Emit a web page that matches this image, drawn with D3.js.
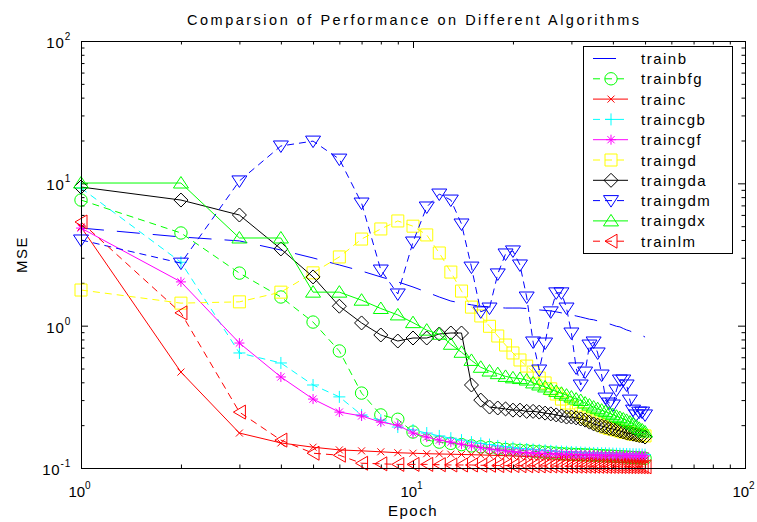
<!DOCTYPE html>
<html>
<head>
<meta charset="utf-8">
<script src="https://cdn.jsdelivr.net/npm/d3@7"></script>
<style>
  body { margin: 0; background: #fff; }
  svg { display: block; }
  text { font-family: "Liberation Sans", Arial, Helvetica, sans-serif; fill: #000; }
</style>
</head>
<body>
<svg id="chart" width="757" height="522"></svg>
<script>
// Training epochs
const epochs = [1, 2, 3, 4, 5, 6, 7, 8, 9, 10,
  11, 12, 13, 14, 15, 16, 17, 18, 19, 20,
  21, 22, 23, 24, 25, 26, 27, 28, 29, 30,
  31, 32, 33, 34, 35, 36, 37, 38, 39, 40,
  41, 42, 43, 44, 45, 46, 47, 48, 49, 50];

// MSE per epoch for each training algorithm
const trainb = [4.85, 4.20, 3.94, 3.40, 2.99, 2.67, 2.42, 2.20, 2.03, 1.87,
  1.72, 1.59, 1.49, 1.44, 1.40, 1.37, 1.35, 1.34, 1.33, 1.33,
  1.33, 1.32, 1.31, 1.29, 1.28, 1.27, 1.25, 1.23, 1.21, 1.19,
  1.17, 1.15, 1.13, 1.11, 1.10, 1.08, 1.06, 1.045, 1.03, 1.01,
  0.99, 0.98, 0.955, 0.933, 0.918, 0.895, 0.88, 0.866, 0.852, 0.832];
const trainbfg = [7.63, 4.48, 2.34, 1.59, 1.06, 0.664, 0.336, 0.236, 0.22, 0.179,
  0.157, 0.152, 0.149, 0.146, 0.143, 0.141, 0.139, 0.137, 0.135, 0.134,
  0.133, 0.132, 0.131, 0.130, 0.129, 0.128, 0.127, 0.126, 0.1255, 0.125,
  0.1246, 0.1242, 0.1238, 0.1234, 0.123, 0.1226, 0.1222, 0.1218, 0.1214, 0.121,
  0.1206, 0.1202, 0.1198, 0.1194, 0.119, 0.1186, 0.1182, 0.1178, 0.1174, 0.117];
const trainc = [4.93, 0.472, 0.176, 0.150, 0.140, 0.134, 0.132, 0.130, 0.128, 0.127,
  0.126, 0.1255, 0.125, 0.1245, 0.124, 0.1235, 0.123, 0.1225, 0.122, 0.1215,
  0.121, 0.1205, 0.120, 0.1197, 0.1194, 0.119, 0.1187, 0.1184, 0.118, 0.1177,
  0.1174, 0.1171, 0.1168, 0.1165, 0.1163, 0.1161, 0.1159, 0.1157, 0.1155, 0.1153,
  0.1151, 0.115, 0.1148, 0.1147, 0.1146, 0.1145, 0.1144, 0.1143, 0.1142, 0.1141];
const traincgb = [9.27, 2.79, 0.643, 0.547, 0.383, 0.316, 0.236, 0.217, 0.194, 0.185,
  0.176, 0.168, 0.162, 0.157, 0.152, 0.149, 0.146, 0.143, 0.141, 0.139,
  0.137, 0.136, 0.135, 0.134, 0.133, 0.132, 0.131, 0.1305, 0.130, 0.1295,
  0.129, 0.1285, 0.128, 0.1278, 0.1275, 0.1272, 0.127, 0.1268, 0.1265, 0.1262,
  0.126, 0.1258, 0.1256, 0.1254, 0.1252, 0.125, 0.1248, 0.1246, 0.1244, 0.1242];
const traincgf = [4.85, 2.03, 0.755, 0.436, 0.305, 0.247, 0.232, 0.210, 0.200, 0.176,
  0.165, 0.157, 0.152, 0.147, 0.143, 0.139, 0.136, 0.134, 0.132, 0.130,
  0.129, 0.128, 0.1275, 0.127, 0.1265, 0.126, 0.1255, 0.125, 0.1248, 0.1245,
  0.1242, 0.124, 0.1238, 0.1236, 0.1234, 0.1232, 0.123, 0.1229, 0.1228, 0.1227,
  0.1226, 0.1225, 0.1224, 0.1223, 0.1222, 0.1221, 0.122, 0.1219, 0.1218, 0.1217];
const traingd = [1.78, 1.44, 1.47, 1.72, 2.35, 3.04, 4.06, 4.78, 5.44, 5.0,
  4.34, 3.24, 2.38, 1.75, 1.35, 1.17, 0.99, 0.846, 0.731, 0.643,
  0.574, 0.52, 0.472, 0.429, 0.396, 0.36, 0.331, 0.305, 0.286, 0.268,
  0.25, 0.24, 0.228, 0.221, 0.214, 0.207, 0.2, 0.194, 0.19, 0.188,
  0.185, 0.182, 0.179, 0.178, 0.176, 0.173, 0.172, 0.171, 0.169, 0.168];
const traingda = [9.42, 7.63, 5.99, 3.46, 2.20, 1.37, 1.045, 0.86, 0.78, 0.819,
  0.819, 0.874, 0.888, 0.888, 0.383, 0.300, 0.268, 0.264, 0.26, 0.255,
  0.255, 0.25, 0.25, 0.247, 0.243, 0.24, 0.236, 0.232, 0.228, 0.228,
  0.225, 0.221, 0.217, 0.21, 0.204, 0.2, 0.197, 0.194, 0.19, 0.188,
  0.185, 0.182, 0.179, 0.176, 0.175, 0.173, 0.171, 0.169, 0.168, 0.165];
const traingdm = [4.0, 2.75, 10.4, 18.3, 19.8, 14.8, 7.27, 2.46, 1.67, 3.87,
  6.82, 8.41, 7.63, 5.18, 2.58, 1.25, 1.33, 2.31, 3.19, 3.35,
  2.67, 1.59, 0.768, 0.488, 0.755, 1.25, 1.70, 1.70, 1.33, 0.888,
  0.505, 0.383, 0.472, 0.731, 0.768, 0.643, 0.45, 0.31, 0.286, 0.277,
  0.353, 0.415, 0.415, 0.383, 0.300, 0.255, 0.236, 0.247, 0.247, 0.236];
const traingdx = [10.05, 10.05, 4.13, 4.13, 1.72, 1.72, 1.51, 1.32, 1.19, 1.05,
  0.93, 0.87, 0.74, 0.65, 0.57, 0.51, 0.48, 0.46, 0.44, 0.43,
  0.425, 0.415, 0.396, 0.383, 0.371, 0.357, 0.345, 0.335, 0.325, 0.315,
  0.305, 0.298, 0.286, 0.277, 0.268, 0.261, 0.255, 0.249, 0.243, 0.237,
  0.231, 0.226, 0.221, 0.216, 0.210, 0.204, 0.197, 0.190, 0.185, 0.179];
const trainlm = [5.35, 1.23, 0.247, 0.157, 0.127, 0.123, 0.108, 0.107, 0.106, 0.106,
  0.106, 0.1055, 0.105, 0.105, 0.105, 0.1045, 0.1045, 0.104, 0.104, 0.104,
  0.1038, 0.1037, 0.1036, 0.1035, 0.1034, 0.1033, 0.1032, 0.1031, 0.103, 0.103,
  0.103, 0.1029, 0.1029, 0.1028, 0.1028, 0.1027, 0.1027, 0.1026, 0.1026, 0.1025,
  0.1025, 0.1024, 0.1024, 0.1023, 0.1023, 0.1022, 0.1022, 0.1021, 0.1021, 0.102];

const seriesNames = ["trainb", "trainbfg", "trainc", "traincgb", "traincgf",
  "traingd", "traingda", "traingdm", "traingdx", "trainlm"];
const seriesValues = [trainb, trainbfg, trainc, traincgb, traincgf,
  traingd, traingda, traingdm, traingdx, trainlm];

// Axis ticks (decades) and their exponent labels
const xMajor = [1, 10, 100];
const xExponents = ["0", "1", "2"];
const yMajor = [0.1, 1, 10, 100];
const yExponents = ["-1", "0", "1", "2"];

const titleText = "Comparsion of Performance on Different Algorithms";
const xLabel = "Epoch";
const yLabel = "MSE";

// Line and marker style for each algorithm
const styles = {
  trainb:   { color: "#0000ff", dash: "23,13", marker: null },
  trainbfg: { color: "#00ff00", dash: "7,5",   marker: "circle" },
  trainc:   { color: "#ff0000", dash: null,    marker: "x" },
  traincgb: { color: "#00ffff", dash: "7,5",   marker: "plus" },
  traincgf: { color: "#ff00ff", dash: null,    marker: "star" },
  traingd:  { color: "#ffff00", dash: "7,5",   marker: "square" },
  traingda: { color: "#000000", dash: null,    marker: "diamond" },
  traingdm: { color: "#0000ff", dash: "7,5",   marker: "tridown" },
  traingdx: { color: "#00ff00", dash: null,    marker: "triup" },
  trainlm:  { color: "#ff0000", dash: "7,5",   marker: "trileft" }
};

const markerShapes = {
  x: "M-3.5,-3.5L3.5,3.5M-3.5,3.5L3.5,-3.5",
  plus: "M-6,0H6M0,-6V6",
  star: "M-5,0H5M0,-5V5M-3.6,-3.6L3.6,3.6M-3.6,3.6L3.6,-3.6",
  square: "M-6,-6H6V6H-6Z",
  diamond: "M0,-7L7,0L0,7L-7,0Z",
  tridown: "M-7.5,-5H7.5L0,6.5Z",
  triup: "M-7.5,5H7.5L0,-6.5Z",
  trileft: "M-6,0L6,-7V7Z"
};

const plot = { left: 81, right: 745, top: 41, bottom: 468 };
const svg = d3.select("#chart");

const x = d3.scaleLog().domain([1, 100]).range([plot.left, plot.right]);
const y = d3.scaleLog().domain([0.1, 100]).range([plot.bottom, plot.top]);

// minor ticks at 2..9 within each decade
function minorTicks(majors) {
  const out = [];
  for (let i = 0; i < majors.length - 1; i++)
    for (let k = 2; k <= 9; k++) out.push(majors[i] * k);
  return out;
}
const xMinor = minorTicks(xMajor);
const yMinor = minorTicks(yMajor);

svg.append("rect").attr("width", 757).attr("height", 522).attr("fill", "#fff");

svg.append("defs").append("clipPath").attr("id", "plotArea")
  .append("rect")
  .attr("x", plot.left).attr("y", plot.top)
  .attr("width", plot.right - plot.left).attr("height", plot.bottom - plot.top);

// inward ticks on all four sides
function addTicks(axisGen, transform, values, size) {
  svg.append("g")
    .attr("transform", transform)
    .call(axisGen.tickValues(values).tickSize(size).tickFormat(() => ""))
    .call(g => g.select(".domain").remove())
    .call(g => g.selectAll("line").attr("stroke", "#000").attr("stroke-width", 1));
}
addTicks(d3.axisBottom(x), `translate(0,${plot.bottom})`, xMajor, -7);
addTicks(d3.axisBottom(x), `translate(0,${plot.bottom})`, xMinor, -3.5);
addTicks(d3.axisTop(x), `translate(0,${plot.top})`, xMajor, -7);
addTicks(d3.axisTop(x), `translate(0,${plot.top})`, xMinor, -3.5);
addTicks(d3.axisLeft(y), `translate(${plot.left},0)`, yMajor, -7);
addTicks(d3.axisLeft(y), `translate(${plot.left},0)`, yMinor, -3.5);
addTicks(d3.axisRight(y), `translate(${plot.right},0)`, yMajor, -7);
addTicks(d3.axisRight(y), `translate(${plot.right},0)`, yMinor, -3.5);

// series lines and markers
const line = d3.line()
  .x((d, i) => x(epochs[i]))
  .y(d => y(d));

const seriesLayer = svg.append("g");
seriesNames.forEach((name, si) => {
  const st = styles[name];
  const vals = seriesValues[si];
  const g = seriesLayer.append("g").attr("class", "series-" + name);
  g.append("path")
    .attr("d", line(vals))
    .attr("fill", "none")
    .attr("stroke", st.color)
    .attr("stroke-width", 1)
    .attr("stroke-dasharray", st.dash)
    .attr("clip-path", "url(#plotArea)");
  if (st.marker) drawMarkers(g, st, vals.map((v, i) => [x(epochs[i]), y(v)]));
});

function drawMarkers(g, st, pts) {
  if (st.marker === "circle") {
    g.selectAll("circle").data(pts).join("circle")
      .attr("cx", d => d[0]).attr("cy", d => d[1]).attr("r", 6.2)
      .attr("fill", "none").attr("stroke", st.color).attr("stroke-width", 1);
  } else {
    g.selectAll("path.mk").data(pts).join("path")
      .attr("class", "mk")
      .attr("transform", d => `translate(${d[0]},${d[1]})`)
      .attr("d", markerShapes[st.marker])
      .attr("fill", "none").attr("stroke", st.color).attr("stroke-width", 1);
  }
}

// axes box
svg.append("rect")
  .attr("x", plot.left + 0.5).attr("y", plot.top + 0.5)
  .attr("width", plot.right - plot.left).attr("height", plot.bottom - plot.top)
  .attr("fill", "none").attr("stroke", "#000").attr("stroke-width", 1);

// tick labels as powers of ten
xMajor.forEach((v, i) => {
  const t = svg.append("text")
    .attr("x", x(v) - 1.5).attr("y", 497)
    .attr("text-anchor", "middle")
    .attr("font-size", 15);
  t.append("tspan").text("10");
  t.append("tspan").attr("dy", -8).attr("font-size", 10).text(xExponents[i]);
});
yMajor.forEach((v, i) => {
  const t = svg.append("text")
    .attr("x", 71).attr("y", y(v) + 7)
    .attr("text-anchor", "end")
    .attr("font-size", 15).attr("letter-spacing", 0.8);
  t.append("tspan").text("10");
  t.append("tspan").attr("dy", -8).attr("font-size", 10).text(yExponents[i]);
});

// title and axis labels
svg.append("text")
  .attr("x", (plot.left + plot.right) / 2).attr("y", 25)
  .attr("text-anchor", "middle")
  .attr("font-size", 14.5)
  .attr("textLength", 452).attr("lengthAdjust", "spacing")
  .text(titleText);
svg.append("text")
  .attr("x", (plot.left + plot.right) / 2).attr("y", 516)
  .attr("text-anchor", "middle")
  .attr("font-size", 15).attr("letter-spacing", 1.5)
  .text(xLabel);
svg.append("text")
  .attr("transform", `translate(27,${(plot.top + plot.bottom) / 2}) rotate(-90)`)
  .attr("text-anchor", "middle")
  .attr("font-size", 15).attr("letter-spacing", 1.5)
  .text(yLabel);

// legend
const legend = { x: 583, y: 46, w: 149, h: 207, row0: 58.5, rowStep: 20.3 };
svg.append("rect")
  .attr("x", legend.x + 0.5).attr("y", legend.y + 0.5)
  .attr("width", legend.w).attr("height", legend.h)
  .attr("fill", "#fff").attr("stroke", "#000").attr("stroke-width", 1);
seriesNames.forEach((name, i) => {
  const st = styles[name];
  const cy = legend.row0 + i * legend.rowStep;
  const g = svg.append("g");
  g.append("line")
    .attr("x1", 593).attr("x2", 628).attr("y1", cy).attr("y2", cy)
    .attr("stroke", st.color).attr("stroke-width", 1)
    .attr("stroke-dasharray", st.dash);
  if (st.marker) drawMarkers(g, st, [[611, cy]]);
  g.append("text")
    .attr("x", 641).attr("y", cy + 5.5)
    .attr("font-size", 15).attr("letter-spacing", 1.5)
    .text(name);
});
</script>
</body>
</html>
